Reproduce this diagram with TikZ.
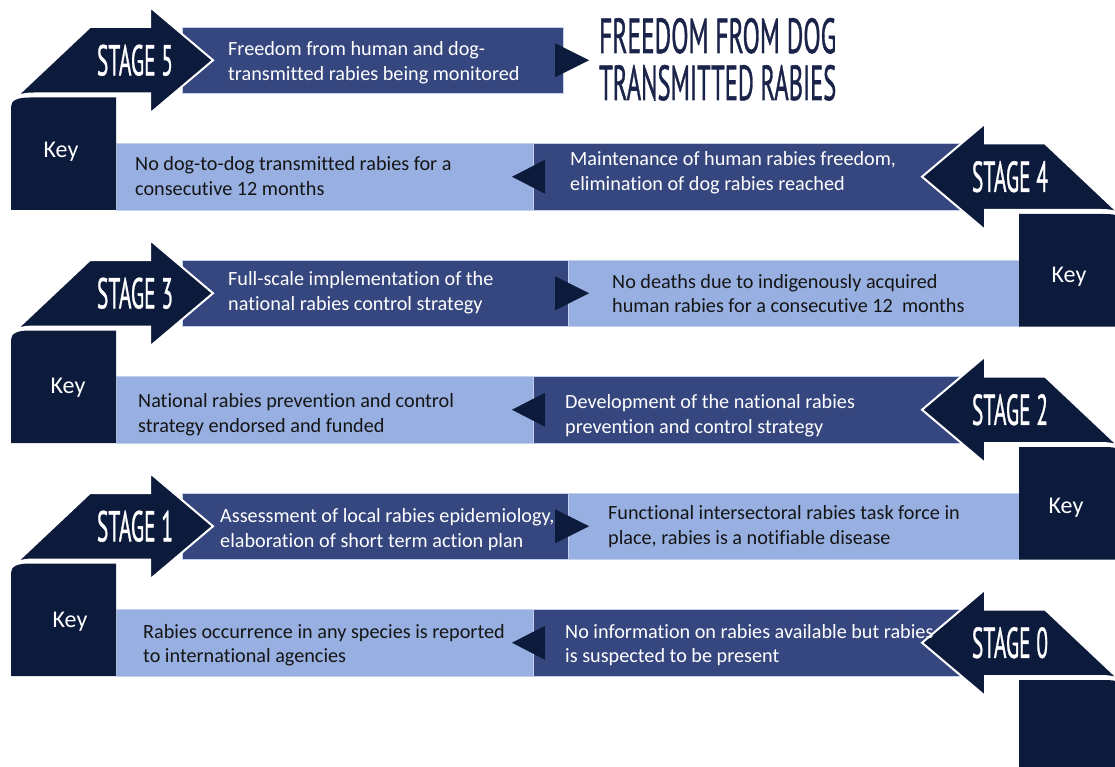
\documentclass[tikz,border=0pt]{standalone}
\usepackage{fontspec}
\usepackage{graphicx}
\setmainfont{Carlito}[Ligatures=NoCommon]
\newfontfamily\condfont{PT Sans}
\newfontfamily\condmed{PT Sans}[FakeBold=1.2]
\definecolor{navyc}{HTML}{0C1A3B}
\definecolor{bandc}{HTML}{36477F}
\definecolor{lightc}{HTML}{97B0E1}
\definecolor{edgec}{HTML}{C5D1EC}
\definecolor{titlec}{HTML}{1A2349}
\definecolor{inkc}{HTML}{151515}
\newcommand\rstage[1]{\filldraw[stagearrow] (12,#1+73.5) -- (90,#1) -- (150,#1) -- (150,#1-20) -- (213,#1+33.25) -- (150,#1+86.5) -- (150,#1+66.5) -- (34,#1+66.5) .. controls (22,#1+66.5) and (16,#1+69) .. (12,#1+73.5) -- cycle;}
\newcommand\keyshape[1]{\fill[keyfill] (11,#1+183) -- (11,#1+80) .. controls (11,#1+73.5) and (17,#1+70.5) .. (30,#1+70.5) -- (116,#1+70.5) -- (116,#1+183) -- cycle;}
\newcommand\rtri[1]{\fill[navyc] (555,#1-17) -- (589,#1) -- (555,#1+17) -- cycle;}
\newcommand\ltri[1]{\fill[navyc] (545,#1-17) -- (512,#1) -- (545,#1+17) -- cycle;}
\newcommand\stg[1]{\scalebox{0.5}[1]{\fontsize{43}{43}\selectfont\condmed STAGE #1}}
\begin{document}
\begin{tikzpicture}[x=1pt,y=-1pt,
  stagearrow/.style={fill=navyc,draw=white,line width=2pt,line join=miter},
  keyfill/.style={fill=navyc},
  darkband/.style={fill=bandc,draw=edgec,line width=0.7pt},
  lightband/.style={fill=lightc,draw=edgec,line width=0.7pt},
  wtext/.style={anchor=west,align=left,inner sep=0pt,text=white,font=\fontsize{20.2}{24.5}\selectfont},
  btext/.style={wtext,text=inkc},
  keylabel/.style={inner sep=0pt,text=white,font=\fontsize{24}{28}\selectfont},
  stagelabel/.style={inner sep=0pt,text=white},
  titletext/.style={anchor=base west,inner sep=0pt,text=titlec}]
\useasboundingbox (0,0) rectangle (1115,767);
\clip (0,0) rectangle (1115,767);
% bands
\filldraw[darkband] (182,27) rectangle (563,93.5);
\filldraw[lightband] (116,143.5) rectangle (533,210);
\filldraw[darkband] (533,143.5) rectangle (960,210);
\filldraw[darkband] (182,260) rectangle (568,326.5);
\filldraw[lightband] (568,260) rectangle (1019,326.5);
\filldraw[lightband] (116,376.5) rectangle (533,443);
\filldraw[darkband] (533,376.5) rectangle (960,443);
\filldraw[darkband] (182,493) rectangle (568,559.5);
\filldraw[lightband] (568,493) rectangle (1019,559.5);
\filldraw[lightband] (116,609.5) rectangle (533,676);
\filldraw[darkband] (533,609.5) rectangle (960,676);
% connector triangles
\rtri{60.25}
\ltri{176.75}
\rtri{293.25}
\ltri{409.75}
\rtri{526.25}
\ltri{642.75}
% key boxes and stage arrows
\keyshape{27}
\keyshape{260}
\keyshape{493}
\begin{scope}[xshift=1135pt,xscale=-1]
\keyshape{143.5}
\keyshape{376.5}
\keyshape{609.5}
\end{scope}
\rstage{27}
\rstage{260}
\rstage{493}
\begin{scope}[xshift=1135pt,xscale=-1]
\rstage{143.5}
\rstage{376.5}
\rstage{609.5}
\end{scope}
% stage labels
\node[stagelabel] (s5) at (135,60.25) {\stg{5}};
\node[stagelabel] (s4) at (1010,176.75) {\stg{4}};
\node[stagelabel] (s3) at (135,293.25) {\stg{3}};
\node[stagelabel] (s2) at (1010,409.75) {\stg{2}};
\node[stagelabel] (s1) at (135,526.25) {\stg{1}};
\node[stagelabel] (s0) at (1010,642.75) {\stg{0}};
% key labels
\node[keylabel] (k5) at (61,152) {Key};
\node[keylabel] (k4) at (1069,277) {Key};
\node[keylabel] (k3) at (68,388) {Key};
\node[keylabel] (k2) at (1066,508) {Key};
\node[keylabel] (k1) at (70,622) {Key};
% texts
\node[wtext] (a1) at (228,62.5) {Freedom from human and dog-\\transmitted rabies being monitored};
\node[btext] (b1) at (135,176) {No dog-to-dog transmitted rabies for a\\consecutive 12 months};
\node[wtext] (b2) at (570,172.5) {Maintenance of human rabies freedom,\\elimination of dog rabies reached};
\node[wtext] (c1) at (228,292.5) {Full-scale implementation of the\\national rabies control strategy};
\node[btext] (c2) at (612,293.5) {No deaths due to indigenously acquired\\human rabies for a consecutive 12~ months};
\node[btext] (d1) at (138,414.5) {National rabies prevention and control\\strategy endorsed and funded};
\node[wtext] (d2) at (565,415.5) {Development of the national rabies\\prevention and control strategy};
\node[wtext] (e1) at (220,529.5) {Assessment of local rabies epidemiology,\\elaboration of short term action plan};
\node[btext] (e2) at (608,526.5) {Functional intersectoral rabies task force in\\place, rabies is a notifiable disease};
\node[btext] (f1) at (143,645) {Rabies occurrence in any species is reported\\to international agencies};
\node[wtext] (f2) at (565,645) {No information on rabies available but rabies\\is suspected to be present};
% title
\node[titletext] (t1) at (599,53) {\resizebox{237pt}{35pt}{\condmed FREEDOM FROM DOG}};
\node[titletext] (t2) at (599,100) {\resizebox{237pt}{35pt}{\condmed TRANSMITTED RABIES}};
\end{tikzpicture}
\end{document}
